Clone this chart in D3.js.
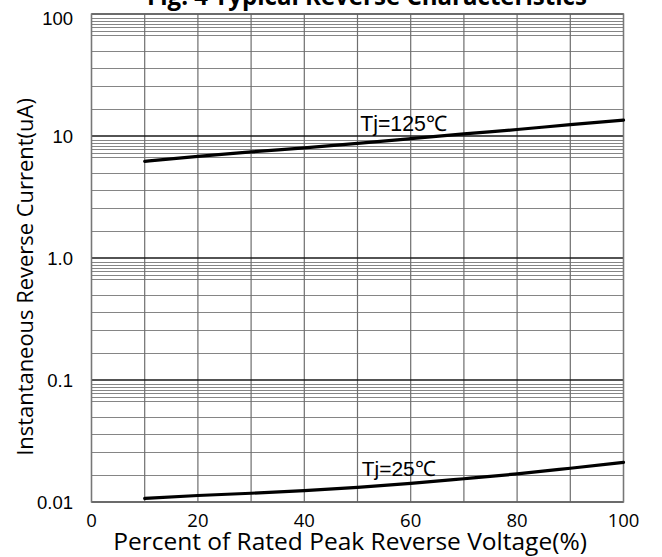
<!DOCTYPE html>
<html><head><meta charset="utf-8">
<script src="https://cdn.jsdelivr.net/npm/d3@7"></script>
<style>body{margin:0;background:#fff}svg{display:block}</style>
</head><body>
<svg id="c" width="662" height="557"></svg>
<script>
// ---- data ----
const xPercent = [10, 20, 30, 40, 50, 60, 70, 80, 90, 100];
const current125 = [6.2, 6.8, 7.4, 8.0, 8.7, 9.5, 10.4, 11.3, 12.4, 13.5];
const current25 = [0.0107, 0.0113, 0.0118, 0.0124, 0.0132, 0.0142, 0.0155, 0.0170, 0.0189, 0.0211];
const xTicks = [0, 20, 40, 60, 80, 100];
const xGrid = [0, 10, 20, 30, 40, 50, 60, 70, 80, 90, 100];
const yTicks = [100, 10, 1, 0.1, 0.01];
const yTickLabels = ["100", "10", "1.0", "0.1", "0.01"];
const decades = [0.01, 0.1, 1, 10];
const minorMults = [1.65, 2.55, 3.6, 5.0, 6.7, 7.3, 7.8, 8.25, 8.8, 9.25];
const seriesLabels = ["Tj=125\u2103", "Tj=25\u2103"];
const title = "Fig. 4 Typical Reverse Characteristics";
const xTitle = "Percent of Rated Peak Reverse Voltage(%)";
const yTitle = "Instantaneous Reverse Current(uA)";

// ---- layout ----
const L = 91.5, R = 623.5, T = 14, B = 502;
const svg = d3.select("#c");
const x = d3.scaleLinear().domain([0, 100]).range([L, R]);
const y = d3.scaleLog().domain([0.01, 100]).range([B, T]);

function fit(sel, w) {
  const n = sel.node(); const cur = n.getComputedTextLength();
  const fs = parseFloat(sel.attr("font-size"));
  sel.attr("font-size", fs * w / cur);
}

const g = svg.append("g");
// minor horizontal grid
const minorVals = [];
decades.forEach(d => minorMults.forEach(m => minorVals.push(d * m)));
g.selectAll("line.hm").data(minorVals).join("line")
  .attr("x1", L).attr("x2", R)
  .attr("y1", d => Math.round(y(d)) + 0.5).attr("y2", d => Math.round(y(d)) + 0.5)
  .attr("stroke", "#858585").attr("stroke-width", 1);
// vertical grid
g.selectAll("line.v").data(xGrid).join("line")
  .attr("y1", T).attr("y2", B)
  .attr("x1", d => x(d)).attr("x2", d => x(d))
  .attr("stroke", "#6e6e6e").attr("stroke-width", 1.2);
// decade lines
g.selectAll("line.hd").data(yTicks).join("line")
  .attr("x1", L).attr("x2", R)
  .attr("y1", d => y(d)).attr("y2", d => y(d))
  .attr("stroke", "#1a1a1a").attr("stroke-width", 1.6);
// border
g.append("rect").attr("x", L).attr("y", T).attr("width", R - L).attr("height", B - T)
  .attr("fill", "none").attr("stroke", "#777").attr("stroke-width", 1.4);

// curves
const line = d3.line().x((d, i) => x(xPercent[i])).y(d => y(d)).curve(d3.curveMonotoneX);
[current125, current25].forEach(s => {
  g.append("path").attr("d", line(s)).attr("fill", "none")
    .attr("stroke", "#000").attr("stroke-width", 3.2).attr("stroke-linecap", "round");
});

// series labels
const l1 = g.append("text").attr("x", x(50.5)).attr("y", y(11.0))
  .attr("font-family", "'Liberation Sans', Arial, sans-serif").attr("font-size", 18).text(seriesLabels[0]);
fit(l1, 87);
const l2 = g.append("text").attr("x", x(50.8)).attr("y", y(0.0162))
  .attr("font-family", "'Liberation Sans', Arial, sans-serif").attr("font-size", 18).text(seriesLabels[1]);
fit(l2, 74);

// y tick labels
g.selectAll("text.yt").data(yTicks).join("text")
  .attr("x", 73).attr("y", d => y(d)).attr("dy", d => d === 100 ? "0.6em" : "0.36em")
  .attr("text-anchor", "end")
  .attr("font-family", "'Liberation Sans', Arial, sans-serif").attr("font-size", 18.5)
  .text((d, i) => yTickLabels[i]);

// x tick labels
g.selectAll("text.xt").data(xTicks).join("text")
  .attr("x", d => x(d)).attr("y", 527)
  .attr("text-anchor", "middle")
  .attr("font-family", "'Open Sans', sans-serif").attr("font-size", 18.5)
  .text(d => d);

// titles
const xt = g.append("text").attr("x", 350).attr("y", 549.5).attr("text-anchor", "middle")
  .attr("font-family", "'Open Sans', sans-serif").attr("font-size", 18).text(xTitle);
fit(xt, 474);
const yt = g.append("text").attr("transform", "translate(33,277) rotate(-90)").attr("text-anchor", "middle")
  .attr("font-family", "'Open Sans', sans-serif").attr("font-size", 18).text(yTitle);
fit(yt, 358);
const tt = g.append("text").attr("x", 367).attr("y", 5).attr("text-anchor", "middle")
  .attr("font-family", "'Open Sans', sans-serif").attr("font-weight", "bold").attr("font-size", 20).text(title);
fit(tt, 440);
</script>
</body></html>
